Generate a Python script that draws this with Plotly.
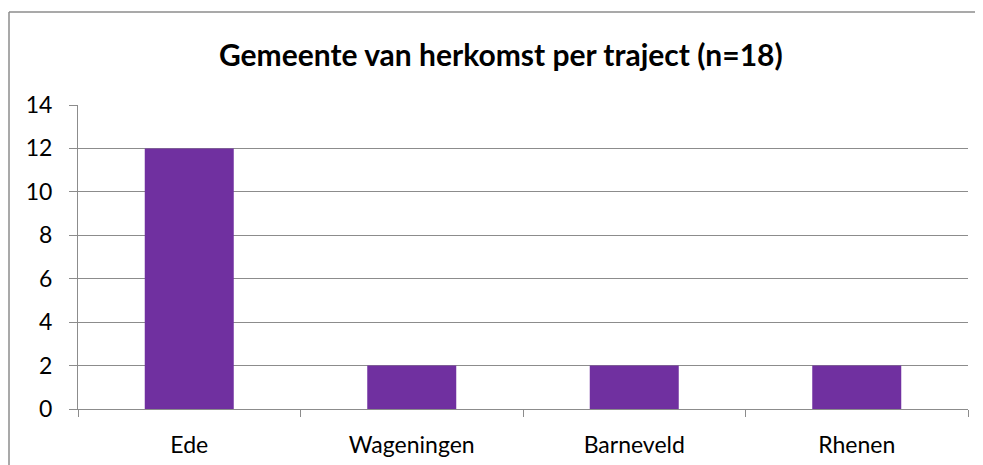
import plotly.graph_objects as go

categories = ["Ede", "Wageningen", "Barneveld", "Rhenen"]
values = [12, 2, 2, 2]
y_ticks = [0, 2, 4, 6, 8, 10, 12, 14]

# page has an 8px body margin; figure sized to avoid page overflow
W, H = 975, 457
L, R, T, B = 70, 15, 97, 56
pw, ph = W - L - R, H - T - B

fig = go.Figure(go.Bar(x=categories, y=values, marker=dict(color="#7030A0", line=dict(width=0)), width=0.4))

font = "Lato, Open Sans, sans-serif"
bx0 = (1 - L) / pw
by1 = (ph + T - 4) / ph
border = dict(color="#8c8c8c", width=1.5)
fig.update_layout(
    width=W, height=H,
    margin=dict(l=L, r=R, t=T, b=B, autoexpand=False),
    plot_bgcolor="white", paper_bgcolor="white",
    font=dict(family=font, size=23, color="black"),
    showlegend=False,
    annotations=[dict(text="<b>Gemeente van herkomst per traject (n=18)</b>",
                      x=(493 - L) / pw, y=(ph + T - 46) / ph, xref="paper", yref="paper",
                      xanchor="center", yanchor="middle", showarrow=False,
                      font=dict(family=font, size=30, color="black"))],
    shapes=[dict(type="line", xref="paper", yref="paper", x0=bx0, x1=(W + 20 - L) / pw,
                 y0=by1, y1=by1, line=border, layer="below"),
            dict(type="line", xref="paper", yref="paper", x0=bx0, x1=bx0,
                 y0=-(B + 20) / ph, y1=by1, line=border, layer="below")],
)
fig.update_yaxes(range=[0, 14], tickvals=y_ticks, showgrid=True, gridcolor="#8c8c8c", gridwidth=1,
                 showline=True, linecolor="#8c8c8c", linewidth=1,
                 ticks="outside", ticklen=8, tickcolor="#8c8c8c", ticklabelstandoff=12,
                 zeroline=False, fixedrange=True, automargin=False)
fig.update_xaxes(showline=True, linecolor="#8c8c8c", linewidth=1, tickson="boundaries",
                 ticks="outside", ticklen=7, tickcolor="#8c8c8c", showgrid=False,
                 ticklabelstandoff=15, fixedrange=True, automargin=False)

fig.write_html("out.html")
